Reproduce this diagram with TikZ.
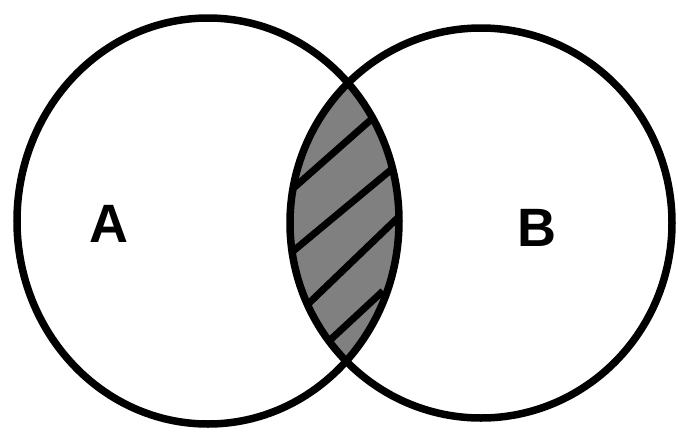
\documentclass[tikz,border=0pt]{standalone}
\usepackage{fontspec}
\setmainfont{Liberation Sans}
\definecolor{lensgray}{RGB}{128,128,128}
\tikzset{
  venn/.style={draw=black, line width=7.5pt},
  hatch/.style={draw=black, line width=7pt},
  setlabel/.style={font=\bfseries\fontsize{54}{54}\selectfont, text=black, inner sep=0pt}
}
\begin{document}
\begin{tikzpicture}[x=1pt,y=-1pt]
\useasboundingbox (0,0) rectangle (678,445);
\def\ellA{(208,221) ellipse [x radius=191pt, y radius=203pt]}
\def\ellB{(481,223) ellipse [x radius=191pt, y radius=195pt]}
\begin{scope}
  \clip \ellA;
  \clip \ellB;
  \fill[lensgray] (250,0) rectangle (450,445);
  \draw[hatch] (280,200) -- (400,94);
  \draw[hatch] (280,262) -- (410,154);
  \draw[hatch] (280,331) -- (410,206);
  \draw[hatch] (300,368) -- (383,291);
\end{scope}
\draw[venn] \ellA;
\draw[venn] \ellB;
\node[setlabel] (A) at (109,224) {A};
\node[setlabel] (B) at (537,228) {B};
\end{tikzpicture}
\end{document}
